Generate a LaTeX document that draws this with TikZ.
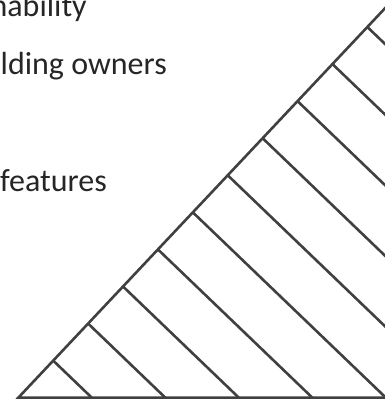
\documentclass[tikz,border=0pt]{standalone}
\usepackage{fontspec}
\setmainfont{Carlito}
\definecolor{ink}{HTML}{404040}
\definecolor{txt}{HTML}{262626}
\tikzset{
  edge/.style={draw=ink, line width=2.6pt, line join=miter},
  label/.style={text=txt, font=\fontsize{32}{38}\selectfont, inner sep=0pt, anchor=base east}
}
\begin{document}
\begin{tikzpicture}[x=1pt,y=-1pt]
\useasboundingbox (0,0) rectangle (385,399);
\clip (0,0) rectangle (385,399);
% texts (cut off at the left edge)
\node[label] (t1) at (87,16) {nability};
\node[label] (t2) at (167,74) {lding owners};
\node[label] (t3) at (107,191) {features};
% triangle
\coordinate (A) at (18.3,397.7);
\coordinate (B) at (402.2,-10);
\coordinate (C) at (420,397.7);
\draw[edge] (B) -- (A) -- (C);
% hatching
\foreach \k in {1,...,11}{
  \pgfmathsetmacro{\dy}{37.07*\k}
  \coordinate (h\k) at ({18.3+\dy/1.062},{397.7-\dy});
  \coordinate (e\k) at ({18.3+\dy/1.062+\dy/0.96},397.7);
  \draw[edge] (h\k) -- (e\k);
}
\end{tikzpicture}
\end{document}
